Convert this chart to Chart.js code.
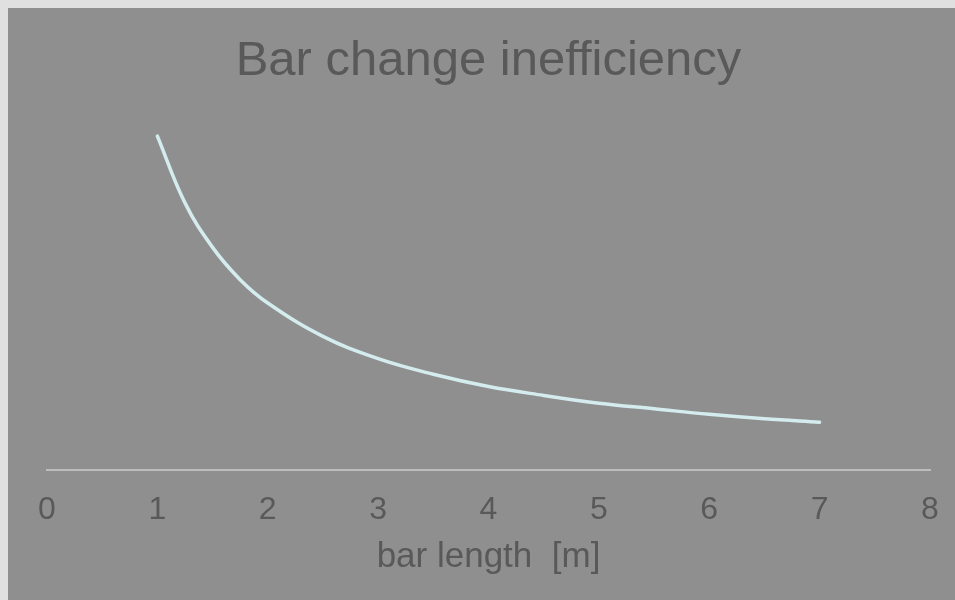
<!DOCTYPE html>
<html>
<head>
<meta charset="utf-8">
<script src="https://cdn.jsdelivr.net/npm/chart.js@4/dist/chart.umd.min.js"></script>
<style>
  html, body { margin: 0; padding: 0; background: #e0e0e0; overflow: hidden; }
  #chart { position: absolute; left: 8px; top: 8px; background: #8f8f8f; }
</style>
</head>
<body>
<canvas id="chart" width="947" height="592"></canvas>
<script>
const barLengths = [1, 1.25, 1.5, 1.75, 2, 2.5, 3, 3.5, 4, 4.5, 5, 5.5, 6, 6.5, 7];
const inefficiency = [3.0, 2.4, 2.0, 1.71, 1.5, 1.2, 1.0, 0.86, 0.75, 0.67, 0.6, 0.55, 0.5, 0.46, 0.43];
const xTicks = [0, 1, 2, 3, 4, 5, 6, 7, 8];

const textColor = '#595959';
const fontFamily = '"Liberation Sans", Arial, sans-serif';

const points = barLengths.map((x, i) => ({ x: x, y: inefficiency[i] }));

const ctx = document.getElementById('chart').getContext('2d');

new Chart(ctx, {
  type: 'line',
  data: {
    datasets: [{
      label: 'inefficiency',
      data: points,
      borderColor: '#d4ecee',
      borderWidth: 3.5,
      borderCapStyle: 'round',
      pointRadius: 0,
      tension: 0.4,
      fill: false
    }]
  },
  options: {
    responsive: false,
    animation: false,
    layout: { padding: { left: 39, right: 25, top: 0, bottom: 22 } },
    plugins: {
      legend: { display: false },
      tooltip: { enabled: false },
      title: {
        display: true,
        text: 'Bar change inefficiency',
        color: textColor,
        font: { family: fontFamily, size: 49, weight: 'normal' },
        padding: { top: 24, bottom: 17 }
      }
    },
    scales: {
      x: {
        type: 'linear',
        min: 0,
        max: 8,
        afterBuildTicks: axis => { axis.ticks = xTicks.map(v => ({ value: v })); },
        afterFit: axis => {
          axis.height = 108;
          axis.paddingLeft = 0;
          axis.paddingRight = 0;
        },
        grid: { display: false, drawTicks: false },
        border: { display: true, color: '#bdbdbd', width: 2 },
        ticks: {
          color: textColor,
          padding: 21,
          maxRotation: 0,
          font: { family: fontFamily, size: 32 }
        },
        title: {
          display: true,
          text: 'bar length  [m]',
          color: textColor,
          font: { family: fontFamily, size: 35 },
          padding: { top: 0, bottom: 0 }
        }
      },
      y: {
        display: false,
        min: 0,
        max: 3.254
      }
    }
  }
});
</script>
</body>
</html>
